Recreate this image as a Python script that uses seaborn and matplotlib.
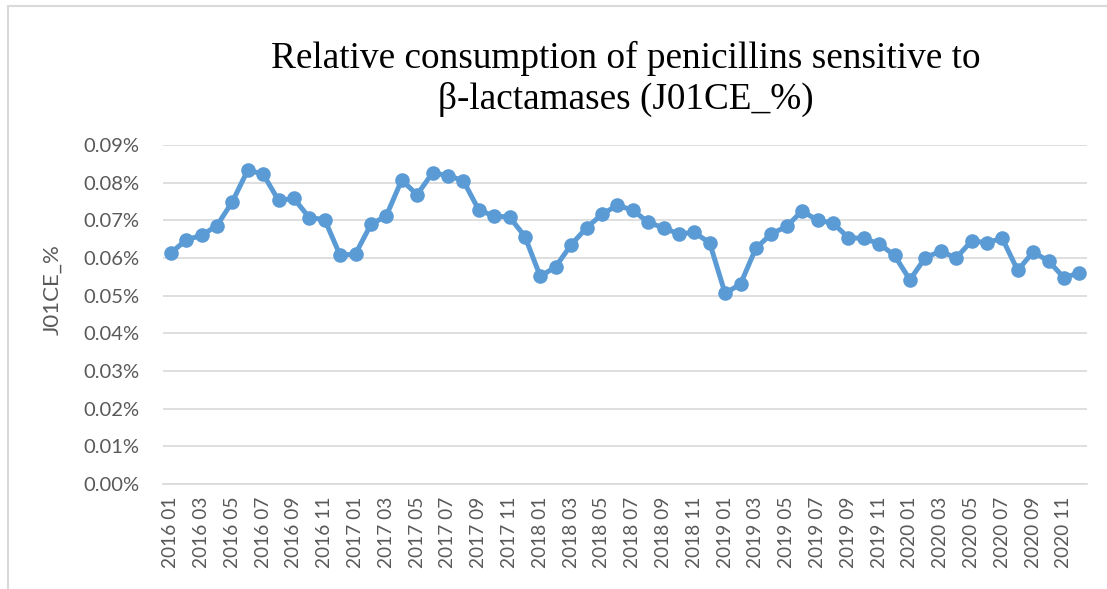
import numpy as np
import pandas as pd
import matplotlib
matplotlib.use("Agg")
import matplotlib.pyplot as plt
from matplotlib.lines import Line2D
import seaborn as sns

# Monthly periods 2016-01 .. 2020-12
years = [2016, 2017, 2018, 2019, 2020]
months = [f"{y} {m:02d}" for y in years for m in range(1, 13)]

# Relative consumption of J01CE (in %)
j01ce_pct = [
    0.0613, 0.0648, 0.0660, 0.0686, 0.0749, 0.0833, 0.0823, 0.0753, 0.0758, 0.0707,
    0.0702, 0.0607, 0.0611, 0.0689, 0.0712, 0.0807, 0.0768, 0.0826, 0.0819, 0.0805,
    0.0728, 0.0711, 0.0709, 0.0657, 0.0551, 0.0577, 0.0635, 0.0680, 0.0716, 0.0740,
    0.0727, 0.0695, 0.0680, 0.0664, 0.0668, 0.0640, 0.0506, 0.0531, 0.0626, 0.0664,
    0.0684, 0.0725, 0.0700, 0.0693, 0.0654, 0.0652, 0.0638, 0.0607, 0.0542, 0.0601,
    0.0618, 0.0600, 0.0645, 0.0641, 0.0652, 0.0567, 0.0616, 0.0592, 0.0548, 0.0560,
]

y_ticks = [0.00, 0.01, 0.02, 0.03, 0.04, 0.05, 0.06, 0.07, 0.08, 0.09]

title_text = "Relative consumption of penicillins sensitive to\nβ-lactamases (J01CE_%)"
y_label = "J01CE_%"

df = pd.DataFrame({"month": months, "value": j01ce_pct})

sns.set_theme(style="white")
plt.rcParams["font.family"] = ["Lato", "DejaVu Sans"]

W, H = 1107, 589
fig = plt.figure(figsize=(W / 100, H / 100), dpi=100)
ax = fig.add_axes([163 / W, 1 - 484 / H, (1087 - 163) / W, (484 - 145) / H])

line_color = "#5B9BD5"
grid_color = "#D9D9D9"
text_color = "#595959"

sns.lineplot(data=df, x="month", y="value", sort=False, ax=ax,
             color=line_color, linewidth=3.6, marker="o", markersize=10.5,
             markeredgewidth=0, zorder=3)

ax.set_xlim(-0.5, len(months) - 0.5)
ax.set_ylim(0, 0.09)
ax.set_yticks(y_ticks)
ax.set_yticklabels([f"{v:.2f}%" for v in y_ticks])

xt = list(range(0, len(months), 2))
ax.set_xticks(xt)
ax.set_xticklabels([months[i] for i in xt], rotation=90)

ax.grid(axis="y", color=grid_color, linewidth=1.2, zorder=0)
ax.grid(axis="x", visible=False)
for side in ["top", "right", "left"]:
    ax.spines[side].set_visible(False)
ax.spines["bottom"].set_color(grid_color)
ax.spines["bottom"].set_linewidth(1.2)

ax.tick_params(axis="y", length=0, pad=17, labelsize=14.5, labelcolor=text_color)
ax.tick_params(axis="x", length=0, pad=9, labelsize=13.8, labelcolor=text_color)

ax.set_xlabel("")
ax.set_ylabel(y_label, fontsize=16, color=text_color)
ax.yaxis.set_label_coords(-101 / (1087 - 163), (484 - 290) / (484 - 145))

fig.text(626 / W, 1 - 41 / H, title_text, ha="center", va="top",
         fontsize=26.8, family=["Liberation Serif", "DejaVu Serif"],
         color="black", linespacing=1.2)

# Chart frame (left and top edges)
fig.add_artist(Line2D([7.5 / W, 7.5 / W], [0, 1 - 6 / H], color=grid_color,
                      linewidth=1.5, transform=fig.transFigure))
fig.add_artist(Line2D([7.5 / W, 1], [1 - 6 / H, 1 - 6 / H], color=grid_color,
                      linewidth=1.5, transform=fig.transFigure))

fig.savefig("out.png", dpi=100, facecolor="white")
